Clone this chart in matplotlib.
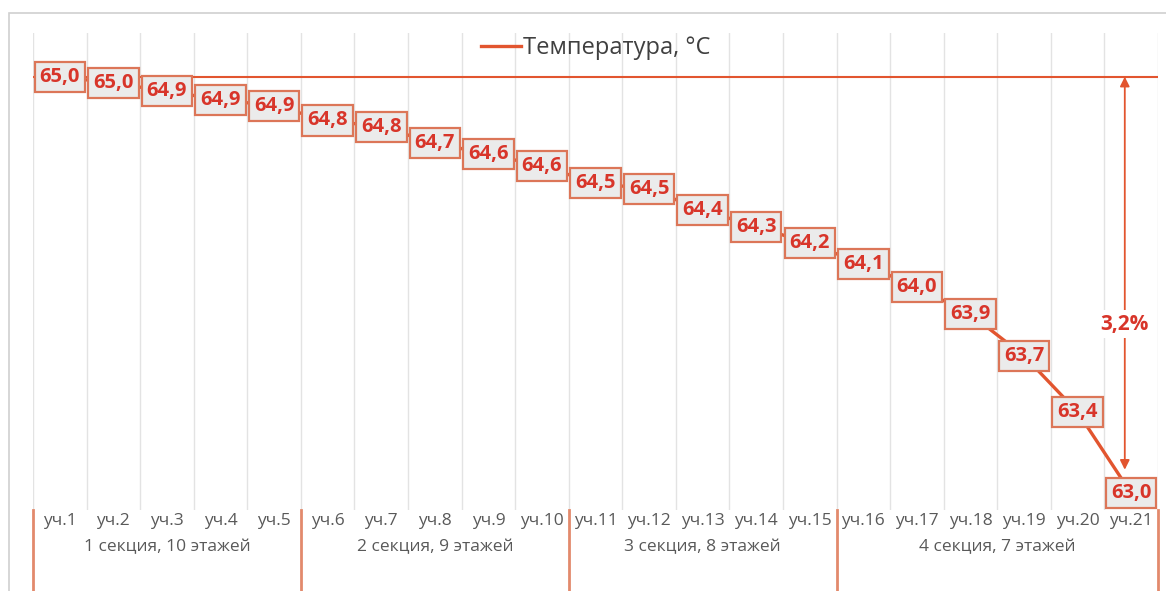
import numpy as np
import matplotlib.pyplot as plt
import matplotlib.transforms as mtransforms
from matplotlib.patches import Rectangle

plt.rcParams['font.family'] = ['Open Sans', 'DejaVu Sans']

# temperatures along the riser
temps = [65.00, 64.97, 64.93, 64.89, 64.86, 64.79, 64.76, 64.68, 64.63, 64.57,
         64.49, 64.46, 64.36, 64.28, 64.20, 64.10, 63.99, 63.86, 63.66, 63.39, 63.00]
sites = ['уч.%d' % i for i in range(1, 22)]
sections = ['1 секция, 10 этажей', '2 секция, 9 этажей', '3 секция, 8 этажей', '4 секция, 7 этажей']
section_bounds = [0, 5, 10, 15, 21]
drop_label = '3,2%'
series_name = 'Температура, °C'

line_col = '#e2552f'
text_col = '#d8352a'
edge_col = '#dc7658'
gray_txt = '#595959'

fig = plt.figure(figsize=(11.66, 5.91), dpi=100)
W, H = 1166, 591
ax = fig.add_axes([33 / W, 1 - 510 / H, (1158 - 33) / W, (510 - 33) / H])

x = np.arange(len(temps))
ax.set_xlim(-0.5, len(temps) - 0.5)
ax.set_ylim(62.92, 65.21)

# vertical grid between categories
for b in np.arange(-0.5, len(temps), 1.0):
    ax.axvline(b, color='#e3e3e3', lw=1, zorder=0)

# reference line at the start temperature
ax.axhline(temps[0], color=line_col, lw=1.5, zorder=1)

ax.plot(x, temps, color=line_col, lw=2.4, zorder=2, label=series_name)

for xi, t in zip(x, temps):
    ax.text(xi, t, ('%.1f' % t).replace('.', ','), ha='center', va='center',
            fontsize=14.5, fontweight='bold', color=text_col, zorder=4,
            bbox=dict(boxstyle='square,pad=0.25', fc='#ebebeb', ec=edge_col, lw=1.6))

# double arrow showing the drop
xa = len(temps) - 1.12
ax.annotate('', xy=(xa, temps[0]), xytext=(xa, temps[-1]),
            arrowprops=dict(arrowstyle='<|-|>', color=line_col, lw=1.3,
                            mutation_scale=14, shrinkA=17, shrinkB=0), zorder=3)
ax.text(xa, 65.0 - (324 - 77) / 208, drop_label, ha='center', va='center',
        fontsize=15, fontweight='bold', color=text_col, zorder=5,
        bbox=dict(boxstyle='square,pad=0.15', fc='white', ec='none'))

ax.set_xticks(x, sites)
ax.tick_params(axis='x', length=0, pad=2, labelsize=12.5, labelcolor=gray_txt)
ax.set_yticks([])
for s in ax.spines.values():
    s.set_visible(False)

trans = mtransforms.blended_transform_factory(ax.transData, ax.transAxes)
for b in section_bounds:
    ax.plot([b - 0.5, b - 0.5], [0, -80 / 477], color='#e28a6c', lw=2,
            transform=trans, clip_on=False)
for name, a, b in zip(sections, section_bounds[:-1], section_bounds[1:]):
    ax.text((a + b - 1) / 2, -37 / 477, name, transform=trans, ha='center',
            va='center', fontsize=12.5, color=gray_txt)

leg = ax.legend(loc='center', bbox_to_anchor=(0.5, (510 - 48) / 477), frameon=False,
                fontsize=17, handlelength=1.7, handletextpad=0.1,
                labelcolor='#404040')

# outer chart frame
fig.patches.append(Rectangle((9 / W, -0.1), 1.2, 1 - 13 / H + 0.1, transform=fig.transFigure,
                             fill=False, ec='#d0d0d0', lw=1.2))

fig.savefig('out.png', dpi=100)
